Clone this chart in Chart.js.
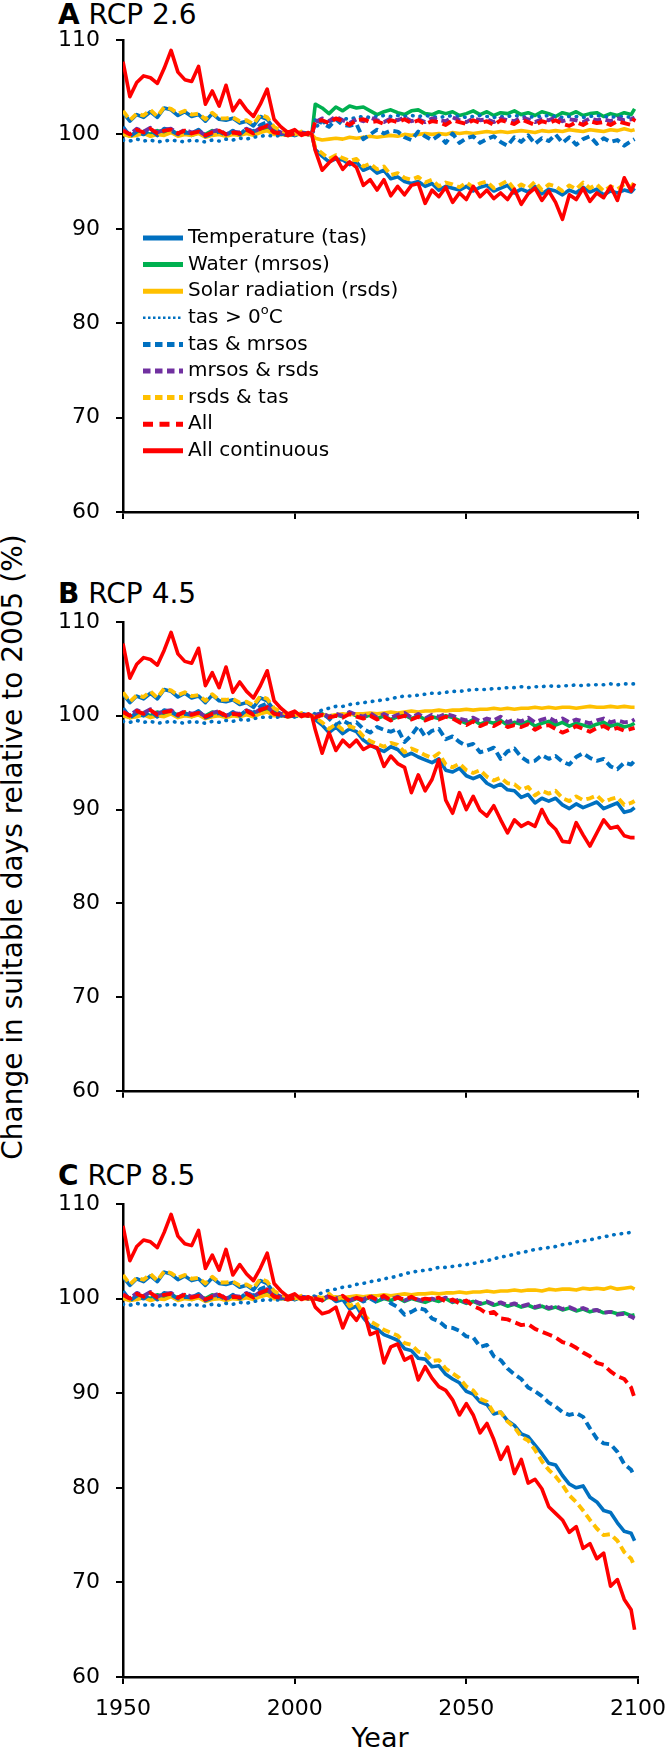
<!DOCTYPE html>
<html>
<head>
<meta charset="utf-8">
<script src="https://cdn.jsdelivr.net/npm/chart.js@4.4.0/dist/chart.umd.min.js"></script>
<style>
  body { margin: 0; background: #fff; width: 666px; height: 1751px; position: relative; overflow: hidden;
         font-family: "DejaVu Sans", sans-serif; color: #000; }
  canvas { position: absolute; left: 0; }
  .ttl { position: absolute; left: 58px; font-size: 28px; line-height: 28px; white-space: nowrap; }
  #ylab { position: absolute; left: -337px; top: 833px; width: 700px; height: 28px; line-height: 28px;
          font-size: 28px; text-align: center; transform: rotate(-90deg); white-space: nowrap; }
  #xlab { position: absolute; left: 280px; top: 1724px; width: 200px; text-align: center;
          font-size: 27px; line-height: 27px; }
</style>
</head>
<body>
<div class="ttl" style="top:1px"><b>A</b> RCP 2.6</div>
<div class="ttl" style="top:580px"><b>B</b> RCP 4.5</div>
<div class="ttl" style="top:1162px"><b>C</b> RCP 8.5</div>
<div id="ylab">Change in suitable days relative to 2005 (%)</div>
<div id="xlab">Year</div>
<canvas id="cA" width="666" height="560" style="top:0px"></canvas>
<canvas id="cB" width="666" height="560" style="top:560px"></canvas>
<canvas id="cC" width="666" height="631" style="top:1120px"></canvas>
<script>
// series names (legend order = drawing order)
const seriesNames = ['Temperature (tas)', 'Water (mrsos)', 'Solar radiation (rsds)', 'tas > 0^oC',
  'tas & mrsos', 'mrsos & rsds', 'rsds & tas', 'All', 'All continuous'];
const yTicks = [60, 70, 80, 90, 100, 110];
const xTicks = [1950, 2000, 2050, 2100];

// years: historical run 1950-2004 every 2 years + 2005 baseline, projections 2006-2098 every 2 years + 2099
const histYears = [];
for (let y = 1950; y <= 2004; y += 2) histYears.push(y);
histYears.push(2005);
const futYears = [];
for (let y = 2006; y <= 2098; y += 2) futYears.push(y);
futYears.push(2099);

// historical (same in all panels)
const histTas = [102.3, 101.4, 102.1, 101.8, 102.4, 101.8, 102.8, 102.6, 102.0, 102.4, 101.9, 102.1, 101.4, 102.2,
  101.6, 101.5, 101.7, 101.2, 101.4, 100.9, 101.9, 101.6, 100.6, 100.2, 100.1, 99.9, 100.2, 100.0, 100];
const histMrsos = [100.2, 99.8, 100.1, 100.3, 100.0, 100.4, 100.2, 100.5, 100.0, 100.3, 99.9, 100.2, 100.0, 100.4,
  100.1, 99.9, 100.2, 100.0, 100.3, 100.1, 100.4, 100.6, 100.2, 100.1, 99.9, 100.0, 100.1, 100.0, 100];
const histRsds = [100.0, 99.8, 99.9, 100.1, 99.8, 100.0, 99.9, 100.2, 99.8, 100.0, 99.9, 100.1, 99.7, 99.9,
  100.0, 99.8, 100.0, 99.9, 100.1, 99.9, 100.2, 100.4, 100.0, 100.0, 99.9, 100.0, 100.0, 100.0, 100];
const histTas0 = [99.4, 99.3, 99.5, 99.3, 99.4, 99.2, 99.3, 99.4, 99.3, 99.2, 99.4, 99.3, 99.2, 99.4,
  99.3, 99.5, 99.4, 99.6, 99.5, 99.7, 99.8, 99.9, 99.8, 99.9, 100.0, 100.0, 100.1, 100.0, 100];
const histTasMrsos = [100.8, 99.8, 100.3, 100.0, 100.5, 99.9, 100.6, 100.4, 100.0, 100.2, 100.1, 100.5, 99.8, 100.1,
  100.3, 99.9, 100.4, 100.0, 100.6, 100.3, 101.0, 101.3, 100.5, 100.0, 100.2, 99.9, 100.2, 100.1, 100];
const histMrsosRsds = [100.5, 100.0, 100.6, 100.3, 100.7, 100.2, 100.5, 100.6, 100.1, 100.5, 100.2, 100.4, 99.9, 100.3,
  100.5, 100.0, 100.3, 100.2, 100.6, 100.2, 100.7, 101.0, 100.3, 100.2, 100.0, 100.1, 100.2, 100.0, 100];
const histRsdsTas = [102.5, 101.5, 102.2, 102.0, 102.6, 101.9, 102.9, 102.7, 102.2, 102.5, 102.1, 102.2, 101.6, 102.3,
  101.7, 101.7, 101.8, 101.4, 101.5, 101.1, 102.1, 101.8, 100.8, 100.4, 100.2, 100.0, 100.3, 100.1, 100];
const histAll = [100.4, 100.0, 100.5, 100.2, 100.6, 100.1, 100.4, 100.5, 100.1, 100.4, 100.1, 100.3, 99.9, 100.2,
  100.4, 100.0, 100.2, 100.1, 100.5, 100.1, 100.6, 100.9, 100.2, 100.1, 99.9, 100.1, 100.1, 100.0, 100];
const histAllCont = [107.7, 104.0, 105.5, 106.2, 106.0, 105.4, 107.0, 108.9, 106.6, 105.8, 105.6, 107.2, 103.2, 104.6,
  103.0, 105.2, 102.5, 103.6, 102.6, 101.9, 103.2, 104.8, 101.6, 100.8, 100.2, 100.5, 99.9, 100.2, 100];

// RCP 2.6
const tas26 = [98.4, 97.7, 97.1, 97.4, 97.3, 96.8, 97.1, 96.2, 96.5, 95.9, 96.2, 95.3, 95.5, 95.0, 94.8, 95.0,
  94.5, 94.8, 94.1, 94.5, 94.3, 94.1, 94.5, 94.0, 94.4, 94.6, 94.0, 94.3, 94.6, 93.8, 94.2, 93.9,
  94.5, 93.7, 94.2, 94.0, 93.6, 94.1, 93.8, 94.4, 93.9, 94.2, 93.6, 94.0, 93.8, 94.1, 93.9, 94.3];
const mrsos26 = [103.2, 102.8, 102.2, 102.9, 102.5, 103.0, 102.8, 102.9, 102.5, 102.1, 102.4, 102.6, 102.3, 102.1, 102.5, 102.6,
  102.2, 102.1, 102.4, 102.2, 102.4, 102.0, 102.2, 102.5, 102.1, 102.4, 102.0, 102.3, 102.2, 102.5, 102.1, 102.3,
  102.0, 102.4, 102.2, 101.9, 102.3, 102.1, 102.4, 102.0, 102.2, 102.3, 101.9, 102.2, 102.0, 102.3, 102.1, 102.7];
const rsds26 = [99.6, 99.4, 99.5, 99.6, 99.5, 99.7, 99.6, 99.7, 99.8, 99.7, 99.8, 99.9, 99.8, 100.0, 99.9, 100.0,
  100.1, 100.0, 100.1, 100.0, 100.2, 100.1, 100.2, 100.1, 100.2, 100.3, 100.2, 100.3, 100.2, 100.3, 100.4, 100.3,
  100.2, 100.4, 100.3, 100.4, 100.3, 100.5, 100.4, 100.3, 100.5, 100.4, 100.3, 100.5, 100.4, 100.6, 100.4, 100.5];
const tas026 = [100.8, 101.2, 101.4, 101.5, 101.7, 101.6, 101.8, 101.9, 101.8, 101.9, 102.0, 101.9, 102.0, 101.9, 102.0, 101.9,
  102.0, 101.9, 101.8, 101.9, 102.0, 101.9, 101.8, 101.9, 102.0, 101.9, 101.8, 101.9, 101.9, 102.0, 101.9, 101.8,
  101.9, 101.9, 102.0, 101.9, 101.8, 101.9, 101.9, 101.8, 101.9, 102.0, 101.9, 101.8, 101.9, 101.9, 101.8, 101.9];
const tasMrsos26 = [101.5, 101.2, 100.8, 101.6, 101.0, 100.9, 101.1, 99.5, 100.0, 100.5, 100.1, 100.4, 100.3, 99.7, 99.4, 100.3,
  99.8, 99.4, 99.9, 99.1, 100.1, 99.1, 99.6, 99.8, 99.1, 99.5, 99.8, 99.2, 98.8, 99.7, 99.2, 99.9,
  99.0, 99.6, 99.3, 100.0, 99.1, 99.7, 98.9, 99.5, 99.8, 99.0, 99.6, 99.2, 99.4, 98.8, 99.3, 99.5];
const mrsosRsds26 = [101.3, 101.7, 101.4, 101.9, 101.5, 101.2, 101.6, 101.4, 101.8, 101.5, 101.3, 101.7, 101.5, 101.8, 101.4, 101.6,
  101.3, 101.7, 101.5, 101.4, 101.8, 101.5, 101.3, 101.7, 101.5, 101.6, 101.3, 101.7, 101.5, 101.4, 101.8, 101.6,
  101.3, 101.6, 101.5, 101.8, 101.4, 101.6, 101.5, 101.3, 101.7, 101.5, 101.6, 101.4, 101.7, 101.5, 101.6, 101.8];
const rsdsTas26 = [98.6, 98.0, 97.4, 97.8, 97.5, 97.2, 97.4, 96.6, 96.9, 96.3, 96.6, 95.7, 95.9, 95.4, 95.2, 95.5,
  94.9, 95.2, 94.5, 94.9, 94.7, 94.4, 94.9, 94.4, 94.8, 95.0, 94.3, 94.7, 95.1, 94.2, 94.7, 94.3,
  95.0, 94.1, 94.7, 94.5, 94.0, 94.6, 94.2, 94.9, 94.3, 94.7, 94.0, 94.5, 94.2, 94.7, 94.4, 95.0];
const all26 = [101.4, 101.5, 101.2, 101.7, 101.4, 101.0, 101.5, 101.6, 101.3, 101.4, 101.1, 101.5, 101.3, 101.6, 101.2, 101.5,
  101.1, 101.4, 101.3, 101.0, 101.5, 101.3, 101.1, 101.5, 101.2, 101.4, 101.0, 101.5, 101.3, 101.1, 101.6, 101.3,
  101.0, 101.4, 101.2, 101.5, 101.1, 100.9, 101.3, 101.0, 101.4, 101.2, 101.3, 101.0, 101.4, 101.2, 101.0, 101.7];
const allCont26 = [98.3, 96.2, 97.0, 97.6, 96.3, 97.1, 96.5, 94.6, 95.2, 94.1, 95.2, 93.5, 94.5, 93.6, 94.6, 94.8,
  92.7, 94.1, 93.4, 94.4, 92.8, 93.8, 93.1, 94.5, 93.4, 94.1, 93.2, 93.8, 93.1, 94.2, 92.6, 93.7,
  94.3, 93.0, 94.0, 92.8, 91.0, 93.6, 93.1, 94.3, 92.9, 93.8, 93.3, 94.5, 93.0, 95.4, 94.0, 94.8];

// RCP 4.5
const tas45 = [99.6, 99.0, 98.2, 98.8, 98.1, 98.6, 98.3, 97.4, 96.9, 96.5, 96.2, 96.7, 96.4, 95.7, 96.0, 95.6,
  95.3, 95.0, 95.4, 94.2, 94.0, 94.4, 93.6, 93.3, 93.6, 92.8, 92.4, 92.7, 92.1, 92.0, 91.3, 91.6,
  90.7, 91.2, 90.9, 91.2, 90.5, 90.1, 90.6, 90.2, 90.5, 90.8, 90.1, 90.4, 90.7, 89.7, 89.9, 90.2];
const mrsos45 = [99.9, 100.2, 99.8, 100.1, 99.9, 100.3, 100.0, 99.8, 100.1, 99.7, 100.0, 99.6, 99.9, 100.1, 99.7, 100.0,
  99.6, 99.9, 99.7, 100.0, 99.8, 99.5, 99.2, 99.6, 99.1, 99.4, 99.2, 99.5, 99.0, 99.3, 99.1, 99.4,
  98.9, 99.2, 99.4, 99.0, 99.3, 98.9, 99.2, 99.0, 98.8, 99.1, 99.3, 98.9, 99.1, 98.8, 99.0, 99.2];
const rsds45 = [100.0, 100.1, 100.0, 100.1, 100.2, 100.1, 100.2, 100.2, 100.3, 100.2, 100.3, 100.4, 100.3, 100.4, 100.5, 100.4,
  100.5, 100.5, 100.6, 100.5, 100.6, 100.6, 100.7, 100.6, 100.7, 100.7, 100.8, 100.7, 100.8, 100.7, 100.8, 100.8,
  100.9, 100.8, 100.9, 100.8, 100.9, 100.9, 100.8, 100.9, 101.0, 100.9, 100.9, 101.0, 100.9, 101.0, 100.9, 100.9];
const tas045 = [100.3, 100.6, 100.8, 101.0, 101.0, 101.2, 101.3, 101.4, 101.5, 101.6, 101.7, 101.8, 102.0, 102.1, 102.1, 102.2,
  102.3, 102.4, 102.4, 102.5, 102.6, 102.6, 102.7, 102.8, 102.8, 102.8, 102.9, 102.9, 103.0, 103.0, 103.1, 103.0,
  103.1, 103.1, 103.2, 103.1, 103.2, 103.2, 103.3, 103.2, 103.3, 103.3, 103.3, 103.4, 103.3, 103.4, 103.4, 103.4];
const tasMrsos45 = [100.1, 100.3, 99.7, 99.0, 99.5, 99.1, 99.3, 98.6, 98.2, 98.8, 98.5, 98.3, 98.6, 97.2, 97.9, 98.9,
  97.8, 98.4, 98.6, 97.5, 97.8, 97.2, 96.8, 97.0, 96.1, 96.3, 96.6, 95.4, 96.2, 96.5, 95.6, 95.1,
  95.2, 95.8, 95.4, 95.7, 95.1, 94.8, 95.6, 96.0, 95.5, 95.2, 95.4, 94.6, 94.3, 95.0, 94.8, 95.2];
const mrsosRsds45 = [100.0, 100.3, 99.9, 100.2, 100.0, 100.4, 100.1, 99.9, 100.3, 99.8, 100.2, 99.8, 100.1, 100.3, 99.8, 100.2,
  99.7, 100.1, 99.9, 100.2, 100.0, 99.7, 99.5, 99.8, 99.4, 99.7, 99.5, 99.9, 99.3, 99.6, 99.4, 99.8,
  99.3, 99.6, 99.8, 99.4, 99.7, 99.3, 99.6, 99.4, 99.2, 99.5, 99.7, 99.3, 99.5, 99.3, 99.4, 99.6];
const rsdsTas45 = [99.8, 99.3, 98.6, 99.1, 98.5, 98.9, 98.6, 97.8, 97.3, 97.0, 96.7, 97.1, 96.9, 96.1, 96.5, 96.2,
  95.8, 95.5, 96.0, 94.8, 94.5, 94.9, 94.2, 93.9, 94.2, 93.5, 93.1, 93.4, 92.8, 92.7, 92.1, 92.4,
  91.5, 92.0, 91.7, 92.0, 91.2, 90.9, 91.4, 91.0, 91.2, 91.5, 90.8, 91.1, 91.3, 90.5, 90.7, 90.9];
const all45 = [99.8, 100.1, 99.8, 100.0, 99.8, 100.2, 99.9, 99.7, 100.0, 99.6, 99.9, 99.5, 99.8, 100.0, 99.6, 99.9,
  99.5, 99.8, 99.6, 99.9, 99.7, 99.3, 99.0, 99.4, 98.9, 99.2, 98.9, 99.3, 98.8, 99.0, 98.8, 99.1,
  98.5, 98.9, 99.0, 98.6, 98.2, 98.5, 98.9, 98.6, 98.3, 98.7, 98.9, 98.5, 98.7, 98.4, 98.6, 98.7];
const allCont45 = [98.5, 96.0, 98.2, 96.3, 97.4, 96.7, 97.4, 96.4, 96.8, 96.6, 94.6, 95.7, 94.9, 94.5, 91.8, 93.7,
  92.0, 93.2, 95.3, 91.0, 89.6, 91.8, 90.0, 91.4, 89.9, 89.3, 90.4, 88.9, 87.5, 88.9, 88.2, 88.6,
  88.2, 90.0, 88.6, 87.9, 86.6, 86.5, 88.6, 87.3, 86.1, 87.5, 88.9, 88.0, 88.2, 87.2, 87.0, 87.0];

// RCP 8.5
const tas85 = [100.1, 99.8, 100.3, 99.7, 99.9, 98.9, 99.2, 98.0, 97.1, 96.8, 96.2, 95.9, 95.6, 94.7, 94.5, 93.7,
  93.6, 92.8, 92.9, 92.0, 91.5, 91.1, 90.2, 89.9, 89.1, 88.8, 87.8, 88.0, 87.1, 86.6, 85.7, 85.4,
  84.5, 83.6, 82.6, 82.4, 81.3, 80.4, 80.0, 80.2, 79.0, 78.5, 77.6, 77.4, 76.3, 75.4, 75.2, 74.4];
const mrsos85 = [100.0, 99.8, 100.2, 99.9, 100.1, 99.7, 100.0, 99.8, 100.2, 99.7, 100.0, 99.8, 100.1, 99.7, 100.0, 99.8,
  99.6, 99.9, 99.7, 100.0, 99.6, 99.8, 99.5, 99.7, 99.4, 99.6, 99.3, 99.5, 99.2, 99.4, 99.1, 99.3,
  99.0, 99.2, 98.9, 99.1, 98.8, 99.0, 98.7, 98.9, 98.6, 98.8, 98.5, 98.6, 98.4, 98.5, 98.2, 98.3];
const rsds85 = [100.0, 100.1, 100.1, 100.2, 100.1, 100.2, 100.3, 100.2, 100.3, 100.3, 100.4, 100.3, 100.4, 100.5, 100.4, 100.5,
  100.5, 100.6, 100.5, 100.6, 100.6, 100.7, 100.6, 100.7, 100.7, 100.8, 100.7, 100.8, 100.8, 100.9, 100.8, 100.9,
  100.9, 100.8, 101.0, 100.9, 101.0, 101.0, 100.9, 101.1, 101.0, 101.1, 101.0, 101.2, 101.0, 101.1, 101.2, 101.0];
const tas085 = [100.4, 100.6, 100.9, 101.0, 101.2, 101.3, 101.5, 101.6, 101.8, 101.9, 102.1, 102.2, 102.4, 102.6, 102.8, 102.9,
  103.0, 103.1, 103.3, 103.3, 103.4, 103.5, 103.6, 103.7, 103.9, 104.0, 104.2, 104.4, 104.5, 104.7, 104.9, 105.0,
  105.2, 105.3, 105.4, 105.5, 105.7, 105.8, 106.0, 106.1, 106.2, 106.4, 106.5, 106.7, 106.8, 106.9, 107.0, 107.1];
const tasMrsos85 = [100.2, 99.9, 100.3, 100.0, 100.2, 99.8, 100.1, 99.7, 100.0, 99.6, 100.2, 99.5, 99.1, 98.3, 98.6, 99.0,
  98.8, 97.9, 97.6, 97.0, 96.9, 96.6, 96.0, 95.9, 94.9, 95.1, 93.9, 93.5, 92.6, 92.0, 91.5, 90.6,
  90.2, 89.7, 89.0, 88.6, 88.0, 87.7, 87.9, 87.5, 86.3, 85.2, 84.7, 84.6, 83.8, 82.5, 81.9, 81.2];
const mrsosRsds85 = [100.1, 99.9, 100.3, 100.0, 100.2, 99.8, 100.1, 99.9, 100.3, 99.8, 100.1, 99.9, 100.2, 99.8, 100.1, 99.9,
  99.7, 100.0, 99.8, 100.1, 99.7, 99.9, 99.6, 99.8, 99.5, 99.7, 99.4, 99.6, 99.3, 99.5, 99.2, 99.4,
  99.1, 99.3, 99.0, 99.2, 98.9, 99.1, 98.8, 99.0, 98.7, 98.8, 98.5, 98.6, 98.3, 98.4, 98.1, 97.9];
const rsdsTas85 = [100.3, 100.0, 100.5, 99.9, 100.2, 99.2, 99.6, 98.4, 97.6, 97.2, 96.7, 96.4, 96.1, 95.3, 95.1, 94.4,
  94.2, 93.4, 93.5, 92.6, 92.1, 91.6, 90.7, 90.3, 89.4, 89.1, 87.9, 88.0, 87.0, 86.4, 85.4, 85.0,
  84.0, 82.8, 81.9, 81.2, 80.3, 79.2, 78.5, 77.6, 76.6, 75.7, 75.0, 75.1, 74.4, 73.2, 72.5, 71.7];
const all85 = [100.0, 99.8, 100.2, 99.9, 100.3, 99.7, 100.1, 99.8, 100.2, 99.9, 100.3, 99.8, 100.1, 99.9, 100.2, 99.8,
  100.0, 99.9, 100.1, 99.7, 99.9, 99.5, 99.8, 99.2, 98.9, 98.4, 98.6, 97.9, 97.8, 97.5, 97.2, 97.3,
  96.8, 96.5, 96.2, 95.9, 95.4, 95.2, 94.8, 94.3, 93.9, 93.2, 93.0, 92.3, 91.8, 91.5, 90.6, 89.5];
const allCont85 = [99.1, 98.4, 98.6, 99.1, 96.9, 98.6, 97.7, 98.9, 96.2, 96.5, 93.2, 94.9, 95.2, 93.5, 93.9, 91.4,
  92.8, 91.6, 90.7, 90.3, 89.3, 87.7, 88.9, 87.7, 85.8, 86.8, 85.1, 83.0, 84.3, 81.5, 83.0, 80.5,
  80.9, 79.9, 78.0, 77.3, 76.6, 75.3, 75.9, 73.6, 74.1, 72.5, 73.1, 69.6, 70.3, 68.2, 67.1, 65.0];

const hist = [histTas, histMrsos, histRsds, histTas0, histTasMrsos, histMrsosRsds, histRsdsTas, histAll, histAllCont];
const rcp26 = [tas26, mrsos26, rsds26, tas026, tasMrsos26, mrsosRsds26, rsdsTas26, all26, allCont26];
const rcp45 = [tas45, mrsos45, rsds45, tas045, tasMrsos45, mrsosRsds45, rsdsTas45, all45, allCont45];
const rcp85 = [tas85, mrsos85, rsds85, tas085, tasMrsos85, mrsosRsds85, rsdsTas85, all85, allCont85];

const BLUE = '#0070C0', GREEN = '#00B050', GOLD = '#FFC000', PURPLE = '#7030A0', RED = '#FF0000';
const dashed = [8, 4.5];
const styles = [
  { color: BLUE,   w: 3.6, dash: [],        cap: 'butt',  lw: 5,   ldash: [] },
  { color: GREEN,  w: 3.6, dash: [],        cap: 'butt',  lw: 5,   ldash: [] },
  { color: GOLD,   w: 3.6, dash: [],        cap: 'butt',  lw: 5,   ldash: [] },
  { color: BLUE,   w: 3.6, dash: [0.5, 7],  cap: 'round', lw: 2.5, ldash: [2.5, 2.5] },
  { color: BLUE,   w: 3.9, dash: dashed,    cap: 'butt',  lw: 5,   ldash: [7.5, 4.5] },
  { color: PURPLE, w: 3.9, dash: dashed,    cap: 'butt',  lw: 5,   ldash: [7.5, 4.5] },
  { color: GOLD,   w: 3.9, dash: dashed,    cap: 'butt',  lw: 5,   ldash: [7.5, 4.5] },
  { color: RED,    w: 3.9, dash: [10, 5],   cap: 'butt',  lw: 5,   ldash: [10, 6.5] },
  { color: RED,    w: 3.6, dash: [],        cap: 'butt',  lw: 5,   ldash: [] }
];

const FONT = '"DejaVu Sans", sans-serif';
Chart.defaults.font.family = FONT;
Chart.defaults.color = '#000';

function buildDatasets(future) {
  return seriesNames.map((name, i) => ({
    label: name,
    data: histYears.map((x, k) => ({ x: x, y: hist[i][k] }))
      .concat(futYears.map((x, k) => ({ x: x, y: future[i][k] }))),
    borderColor: styles[i].color,
    borderWidth: styles[i].w,
    borderDash: styles[i].dash,
    borderCapStyle: styles[i].cap,
    borderJoinStyle: 'round',
    pointRadius: 0,
    tension: 0,
    fill: false,
    order: seriesNames.length - i
  }));
}

// legend drawn inside the plot area of panel A
const insideLegend = {
  id: 'insideLegend',
  afterDraw(chart, args, opts) {
    if (!opts.show) return;
    const ctx = chart.ctx;
    ctx.save();
    ctx.textBaseline = 'middle';
    ctx.fillStyle = '#000';
    seriesNames.forEach((name, i) => {
      const st = styles[i];
      const y = 238 + i * 26.6;
      ctx.beginPath();
      ctx.strokeStyle = st.color;
      ctx.lineWidth = st.lw;
      ctx.lineCap = 'butt';
      ctx.setLineDash(st.ldash);
      ctx.moveTo(143, y);
      ctx.lineTo(183, y);
      ctx.stroke();
      ctx.setLineDash([]);
      let x = 188;
      const parts = name.split('^');
      ctx.font = '20px ' + FONT;
      ctx.fillText(parts[0], x, y);
      x += ctx.measureText(parts[0]).width;
      if (parts.length > 1) {
        ctx.font = '13px ' + FONT;
        ctx.fillText(parts[1][0], x, y - 7);
        x += ctx.measureText(parts[1][0]).width;
        ctx.font = '20px ' + FONT;
        ctx.fillText(parts[1].slice(1), x, y);
      }
    });
    ctx.restore();
  }
};

function makeChart(id, future, padTop, xHeight, showX, showLegend) {
  new Chart(document.getElementById(id), {
    type: 'line',
    data: { datasets: buildDatasets(future) },
    options: {
      responsive: false,
      animation: false,
      layout: { padding: { top: padTop, right: 28, bottom: 0, left: 0 } },
      plugins: { legend: { display: false }, tooltip: { enabled: false }, insideLegend: { show: showLegend } },
      scales: {
        x: {
          type: 'linear', min: 1950, max: 2100,
          afterBuildTicks: s => { s.ticks = xTicks.map(v => ({ value: v })); },
          ticks: { display: showX, font: { size: 22 }, padding: 12, maxRotation: 0, callback: v => String(v) },
          grid: { drawOnChartArea: false, drawTicks: true, tickLength: 7, color: '#000', lineWidth: 2 },
          border: { display: true, color: '#000', width: 2.5 },
          afterFit: s => { s.height = xHeight; s.paddingLeft = 0; s.paddingRight = 0; }
        },
        y: {
          min: 60, max: 110,
          afterBuildTicks: s => { s.ticks = yTicks.map(v => ({ value: v })); },
          ticks: { font: { size: 22 }, padding: 16, callback: v => String(v) },
          grid: { drawOnChartArea: false, drawTicks: true, tickLength: 7, color: '#000', lineWidth: 2 },
          border: { display: true, color: '#000', width: 2.5 },
          afterFit: s => { s.width = 123; }
        }
      }
    },
    plugins: [insideLegend]
  });
}

makeChart('cA', rcp26, 40, 48, false, true);
makeChart('cB', rcp45, 62, 28, false, false);
makeChart('cC', rcp85, 84, 74, true, false);
</script>
</body>
</html>
